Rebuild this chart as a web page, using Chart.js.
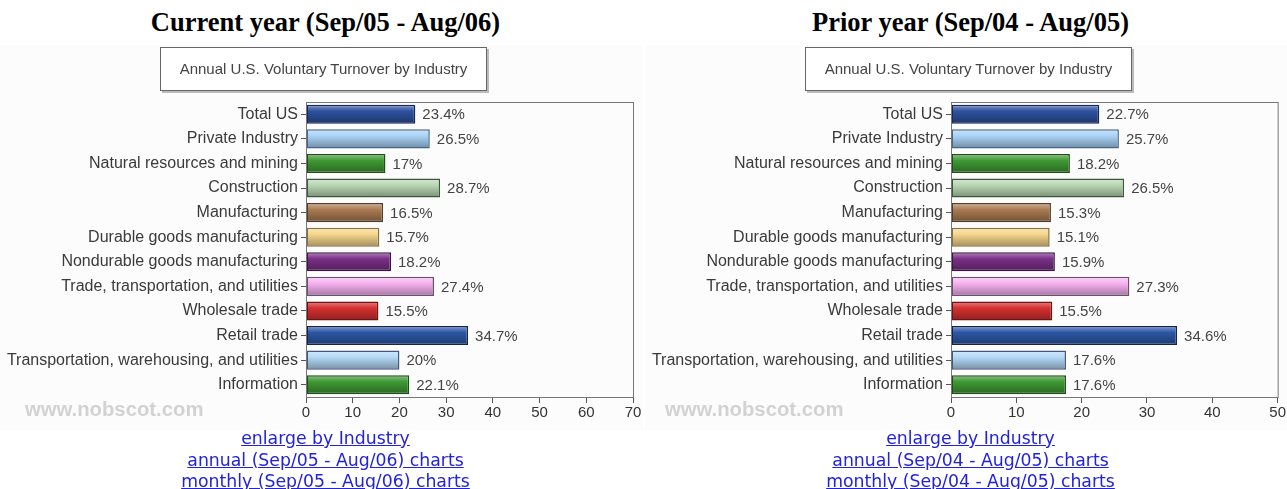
<!DOCTYPE html>
<html>
<head>
<meta charset="utf-8">
<script src="https://cdn.jsdelivr.net/npm/chart.js@4"></script>
<style>
  body { margin: 0; width: 1287px; height: 489px; background: #fff; position: relative; overflow: hidden; }
  .title { position: absolute; top: 7px; width: 651px; text-align: center; font: bold 26.5px "Liberation Serif", "Times New Roman", serif; color: #000; }
  .img { position: absolute; top: 40px; height: 390px; background: linear-gradient(#fff 5px, #fcfcfc 5px); }
  .legendbox { position: absolute; top: 47px; height: 42px; width: 325px; border: 1px solid #666; background: #fff;
    box-shadow: 2px 2px 0 #bbb; font: 15px "Liberation Sans", Arial, sans-serif; color: #444; text-align: center; line-height: 42px; }
  .mark { position: absolute; top: 398px; font: bold 20.3px "Liberation Sans", Arial, sans-serif; color: #d2d2d2; }
  .links { position: absolute; top: 428px; width: 651px; text-align: center; font: 17.3px "DejaVu Sans", Verdana, sans-serif; line-height: 21.5px; }
  .links a { color: #2222dd; text-decoration: underline; }
  canvas { position: absolute; top: 0; left: 0; }
</style>
</head>
<body>
<div class="title" style="left:0">Current year (Sep/05 - Aug/06)</div>
<div class="title" style="left:645px">Prior year (Sep/04 - Aug/05)</div>

<div class="img" style="left:0;width:643px"><canvas id="chart-current"></canvas></div>
<div class="img" style="left:645px;width:642px"><canvas id="chart-prior"></canvas></div>

<div class="legendbox" style="left:160px">Annual U.S. Voluntary Turnover by Industry</div>
<div class="legendbox" style="left:805px">Annual U.S. Voluntary Turnover by Industry</div>

<div class="mark" style="left:25px">www.nobscot.com</div>
<div class="mark" style="left:665px">www.nobscot.com</div>

<div class="links" style="left:0">
  <a href="#">enlarge by Industry</a><br>
  <a href="#">annual (Sep/05 - Aug/06) charts</a><br>
  <a href="#">monthly (Sep/05 - Aug/06) charts</a>
</div>
<div class="links" style="left:645px">
  <a href="#">enlarge by Industry</a><br>
  <a href="#">annual (Sep/04 - Aug/05) charts</a><br>
  <a href="#">monthly (Sep/04 - Aug/05) charts</a>
</div>

<script>
const categories = [
  'Total US',
  'Private Industry',
  'Natural resources and mining',
  'Construction',
  'Manufacturing',
  'Durable goods manufacturing',
  'Nondurable goods manufacturing',
  'Trade, transportation, and utilities',
  'Wholesale trade',
  'Retail trade',
  'Transportation, warehousing, and utilities',
  'Information',
];
const currentValues = [23.4, 26.5, 17, 28.7, 16.5, 15.7, 18.2, 27.4, 15.5, 34.7, 20, 22.1];
const priorValues = [22.7, 25.7, 18.2, 26.5, 15.3, 15.1, 15.9, 27.3, 15.5, 34.6, 17.6, 17.6];
const currentTicks = [0, 10, 20, 30, 40, 50, 60, 70];
const priorTicks = [0, 10, 20, 30, 40, 50];

const barColors = ['#2d519f', '#a9d2f7', '#3f9a33', '#b9d6b3', '#a97b52', '#f6d68c', '#7a2f87',
  '#f7b2f1', '#d6302f', '#2c57a6', '#b3d9f7', '#3f9a33'];
const barBorders = ['#15275a', '#46668c', '#1d4f17', '#3c583a', '#553c26', '#86713f', '#3c1446',
  '#6e4f6d', '#6c1414', '#102456', '#43597c', '#1d4f17'];

function mix(hex, target, t) {
  const a = parseInt(hex.slice(1), 16);
  const r = (a >> 16) & 255, g = (a >> 8) & 255, b = a & 255;
  const m = v => Math.round(v + (target - v) * t);
  return `rgb(${m(r)}, ${m(g)}, ${m(b)})`;
}

// glossy vertical gradient per bar, like the old chart images
function barFill(c) {
  const chart = c.chart;
  const base = barColors[c.dataIndex];
  if (!chart.chartArea || !chart.scales.y) return base;
  const y = chart.scales.y.getPixelForValue(c.dataIndex);
  const g = chart.ctx.createLinearGradient(0, y - 10, 0, y + 10);
  g.addColorStop(0, mix(base, 255, 0.45));
  g.addColorStop(0.35, base);
  g.addColorStop(1, mix(base, 0, 0.35));
  return g;
}

const valueLabels = {
  id: 'valueLabels',
  afterDatasetsDraw(chart) {
    const ctx = chart.ctx;
    ctx.save();
    ctx.font = '15px "Liberation Sans", Arial, sans-serif';
    ctx.fillStyle = '#444';
    ctx.textBaseline = 'middle';
    chart.getDatasetMeta(0).data.forEach((bar, i) => {
      ctx.fillText(chart.data.datasets[0].data[i] + '%', bar.x + 7, bar.y + 1);
    });
    ctx.restore();
  },
};

const plotFrame = {
  id: 'plotFrame',
  afterDraw(chart) {
    const a = chart.chartArea;
    const ctx = chart.ctx;
    ctx.save();
    ctx.strokeStyle = '#777';
    ctx.lineWidth = 1;
    ctx.strokeRect(a.left + 0.5, a.top + 0.5, a.right - a.left, a.bottom - a.top);
    ctx.restore();
  },
};

function buildChart(id, values, ticks, width) {
  const max = ticks[ticks.length - 1];
  return new Chart(document.getElementById(id), {
    type: 'bar',
    data: {
      labels: categories,
      datasets: [{
        data: values,
        backgroundColor: barFill,
        borderColor: barBorders,
        borderWidth: 1.5,
        borderSkipped: false,
        barPercentage: 0.8,
        categoryPercentage: 0.97,
      }],
    },
    options: {
      indexAxis: 'y',
      responsive: false,
      animation: false,
      layout: { padding: { top: 62, right: width - 635, left: 0, bottom: 0 } },
      plugins: { legend: { display: false }, tooltip: { enabled: false } },
      scales: {
        x: {
          min: 0,
          max: max,
          afterFit(scale) { scale.height = 33; },
          afterBuildTicks(scale) { scale.ticks = ticks.map(v => ({ value: v })); },
          grid: { drawOnChartArea: false, tickLength: 6, color: '#555' },
          border: { color: '#555' },
          ticks: { color: '#333', font: { size: 15, family: '"Liberation Sans", Arial, sans-serif' }, padding: 1 },
        },
        y: {
          afterFit(scale) { scale.width = 306; },
          grid: { drawOnChartArea: false, offset: false, tickLength: 5, color: '#555' },
          border: { color: '#555' },
          ticks: { color: '#3a3a3a', font: { size: 16, family: '"Liberation Sans", Arial, sans-serif' }, padding: 3 },
        },
      },
    },
    plugins: [valueLabels, plotFrame],
  });
}

function sizeCanvas(id, w, h) {
  const c = document.getElementById(id);
  c.width = w; c.height = h;
  c.style.width = w + 'px'; c.style.height = h + 'px';
}

sizeCanvas('chart-current', 643, 390);
sizeCanvas('chart-prior', 642, 390);
buildChart('chart-current', currentValues, currentTicks, 645);
buildChart('chart-prior', priorValues, priorTicks, 642);
</script>
</body>
</html>
